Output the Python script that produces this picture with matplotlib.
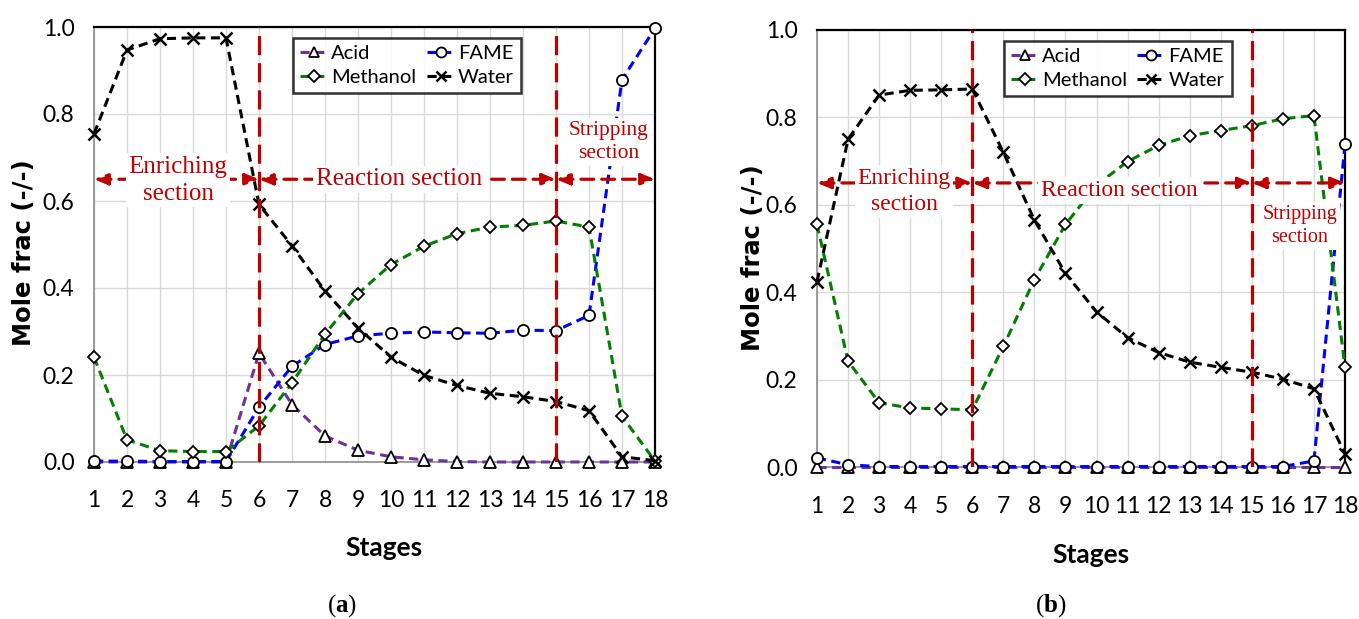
import matplotlib
matplotlib.use("Agg")
import matplotlib.pyplot as plt
import numpy as np

# ---------------- data ----------------
stages = list(range(1, 19))
ytick_vals = [0.0, 0.2, 0.4, 0.6, 0.8, 1.0]
ytick_labels = ["0.0", "0.2", "0.4", "0.6", "0.8", "1.0"]

# panel (a)
acid_a = [0.0, 0.0, 0.0, 0.0, 0.0, 0.25, 0.132, 0.06, 0.027, 0.012, 0.005, 0.001, 0.0, 0.0, 0.0, 0.0, 0.0, 0.0]
fame_a = [0.002, 0.002, 0.001, 0.001, 0.001, 0.126, 0.22, 0.27, 0.29, 0.296, 0.299, 0.297, 0.296, 0.303, 0.302, 0.337, 0.879, 0.997]
meoh_a = [0.241, 0.051, 0.026, 0.024, 0.024, 0.083, 0.182, 0.294, 0.387, 0.454, 0.496, 0.525, 0.54, 0.544, 0.554, 0.54, 0.105, 0.002]
water_a = [0.754, 0.947, 0.973, 0.975, 0.975, 0.592, 0.497, 0.393, 0.308, 0.241, 0.199, 0.176, 0.158, 0.15, 0.139, 0.118, 0.012, 0.003]

# panel (b)
acid_b = [0.0] * 18
fame_b = [0.021, 0.005, 0.001, 0.001, 0.001, 0.001, 0.001, 0.001, 0.001, 0.001, 0.001, 0.001, 0.001, 0.001, 0.001, 0.001, 0.014, 0.738]
meoh_b = [0.555, 0.242, 0.147, 0.135, 0.133, 0.131, 0.276, 0.429, 0.555, 0.645, 0.699, 0.736, 0.758, 0.77, 0.781, 0.797, 0.804, 0.228]
water_b = [0.424, 0.75, 0.851, 0.862, 0.863, 0.865, 0.72, 0.565, 0.443, 0.355, 0.296, 0.262, 0.24, 0.228, 0.217, 0.201, 0.179, 0.03]

section_bounds = [1, 6, 15, 18]
arrow_y = 0.65

W, H = 1359, 619
fig = plt.figure(figsize=(W / 100, H / 100), dpi=100)
plt.rcParams["mathtext.fontset"] = "custom"
plt.rcParams["mathtext.rm"] = "Liberation Serif"
plt.rcParams["mathtext.bf"] = "Liberation Serif:bold"

axA = fig.add_axes([94 / W, 1 - 462 / H, 561 / W, 435 / H])
axB = fig.add_axes([817 / W, 1 - 467 / H, 528 / W, 437 / H])

RED = "#C00000"
series_style = [
    ("Acid", "#7030A0", "^", 8.0),
    ("FAME", "#0000FF", "o", 8.0),
    ("Methanol", "#008000", "D", 6.3),
    ("Water", "black", "x", 8.0),
]


def style_axes(ax, ylab_pad, xlab_pad):
    ax.set_xlim(1, 18)
    ax.set_ylim(0, 1)
    ax.set_xticks(stages)
    ax.set_xticklabels([str(s) for s in stages], family="Lato", fontsize=16.5)
    ax.set_yticks(ytick_vals)
    ax.set_yticklabels(ytick_labels, family="Lato", fontsize=16.5)
    ax.tick_params(axis="y", length=0, pad=ylab_pad)
    ax.tick_params(axis="x", length=0, pad=xlab_pad)
    ax.grid(True, color="#d9d9d9", lw=1.0)
    ax.set_axisbelow(True)
    for s in ["top", "right"]:
        ax.spines[s].set_color("black")
        ax.spines[s].set_linewidth(1.6)
    for s in ["left", "bottom"]:
        ax.spines[s].set_color("#8c8c8c")
        ax.spines[s].set_linewidth(1.2)


def draw_series(ax, data):
    handles = {}
    for (name, col, mk, ms), ys in zip(series_style, data):
        mew = 1.8 if mk == "x" else 1.3
        (h,) = ax.plot(stages, ys, color=col, ls=(0, (3, 1.8)), lw=2.2,
                       marker=mk, ms=ms, mfc="white", mec="black", mew=mew,
                       label=name, zorder=3, clip_on=False)
        handles[name] = h
    return handles


def draw_sections(ax, texts):
    for s in section_bounds[1:-1]:
        ax.axvline(s, color=RED, lw=2.3, ls=(0, (6, 2.5)), zorder=4)
    for a, b in zip(section_bounds[:-1], section_bounds[1:]):
        ax.annotate("", xy=(b, arrow_y), xytext=(a, arrow_y),
                    arrowprops=dict(arrowstyle="<|-|>,head_length=0.8,head_width=0.33",
                                    color=RED, lw=2.3, ls=(0, (4, 2.5)),
                                    shrinkA=0, shrinkB=0),
                    zorder=4)
    for (txt, x, y, fs) in texts:
        ax.text(x, y, txt, family="Liberation Serif", fontsize=fs, color=RED,
                ha="center", va="center", linespacing=1.3, zorder=5,
                bbox=dict(facecolor="white", edgecolor="none", pad=2))


def draw_legend(ax, handles, x, y):
    order = ["Acid", "Methanol", "FAME", "Water"]
    leg = ax.legend([handles[n] for n in order], order, ncol=2, loc="upper left",
                    bbox_to_anchor=(x, y), prop=dict(family="Lato", size=14.5),
                    frameon=True, fancybox=False, edgecolor="black",
                    handlelength=1.4, handletextpad=0.15, columnspacing=0.5,
                    borderpad=0.35, labelspacing=0.35, markerscale=0.9,
                    borderaxespad=0.0)
    leg.get_frame().set_linewidth(1.8)
    leg.set_zorder(6)


# panel (a)
style_axes(axA, 14, 20)
hA = draw_series(axA, [acid_a, fame_a, meoh_a, water_a])
draw_sections(axA, [("Enriching\nsection", 3.55, 0.648, 18),
                    ("Reaction section", 10.24, 0.65, 18),
                    ("Stripping\nsection", 16.6, 0.735, 15.5)])
draw_legend(axA, hA, 0.355, 0.975)

# panel (b)
style_axes(axB, 14, 21)
hB = draw_series(axB, [acid_b, fame_b, meoh_b, water_b])
draw_sections(axB, [("Enriching\nsection", 3.8, 0.63, 17),
                    ("Reaction section", 10.72, 0.632, 17),
                    ("Stripping\nsection", 16.55, 0.552, 14.5)])
draw_legend(axB, hB, 0.354, 0.975)

# axis labels and panel captions
for (x, y) in [(24, 253), (753, 258)]:
    fig.text(x / W, 1 - y / H, "Mole frac (-/-)", rotation=90, family="DejaVu Sans",
             fontweight="bold", fontsize=17.5, ha="center", va="center")
for (x, y) in [(384, 548), (1091, 555)]:
    fig.text(x / W, 1 - y / H, "Stages", family="Lato", fontweight="bold",
             fontsize=19, ha="center", va="center")
for (x, y, lab) in [(342, 606, "a"), (1051, 606, "b")]:
    fig.text(x / W, 1 - y / H, "($\\mathbf{%s}$)" % lab, family="Liberation Serif",
             fontsize=18, ha="center", va="center")

fig.savefig("out.png", dpi=100, facecolor="white")
